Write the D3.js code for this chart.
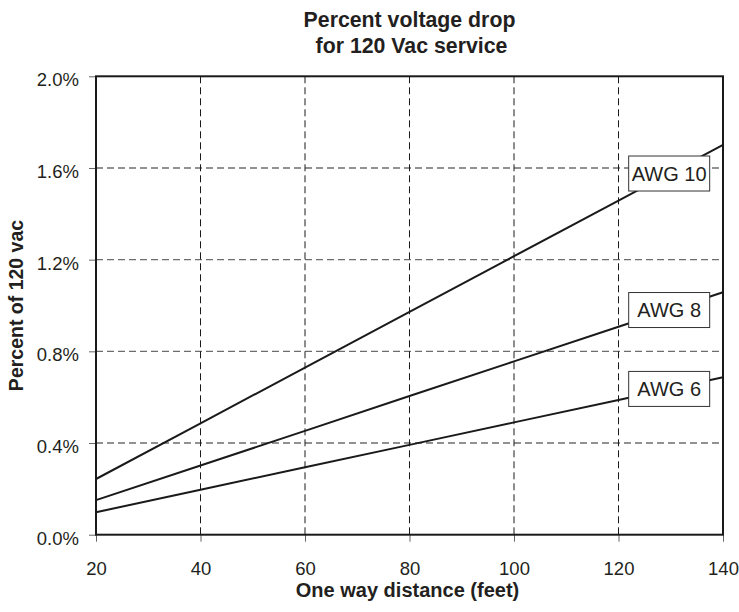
<!DOCTYPE html>
<html>
<head>
<meta charset="utf-8">
<script src="https://cdn.jsdelivr.net/npm/d3@7"></script>
<style>
  body { margin: 0; background: #fff; }
  svg text { font-family: "Liberation Sans", Arial, sans-serif; fill: #231f20; }
</style>
</head>
<body>
<div id="chart"></div>
<script>
// distances (feet, one way)
const distances = [20, 40, 60, 80, 100, 120, 140];

// percent drop of 120 Vac
const awg10 = [0.243, 0.486, 0.729, 0.972, 1.215, 1.458, 1.701];
const awg8  = [0.151, 0.302, 0.453, 0.605, 0.756, 0.907, 1.058];
const awg6  = [0.098, 0.196, 0.294, 0.392, 0.490, 0.588, 0.687];

const seriesNames = ["AWG 10", "AWG 8", "AWG 6"];
const seriesValues = [awg10, awg8, awg6];

const xTicks = [20, 40, 60, 80, 100, 120, 140];
const yTicks = [0, 0.4, 0.8, 1.2, 1.6, 2.0];

const labelAt = 129.7; // where the boxes sit along x

const W = 739, H = 612;
const margin = {top: 76.3, right: 16, bottom: 77.3, left: 96};
const width = W - margin.left - margin.right;
const height = H - margin.top - margin.bottom;

const svg = d3.select("#chart").append("svg")
    .attr("width", W)
    .attr("height", H);

const g = svg.append("g")
    .attr("transform", "translate(" + margin.left + "," + margin.top + ")");

const x = d3.scaleLinear().domain([20, 140]).range([0, width]);
const y = d3.scaleLinear().domain([0, 2.0]).range([height, 0]);

// horizontal grid (grey dashes)
g.append("g")
    .selectAll("line")
    .data(yTicks.filter(d => d > 0 && d < 2))
    .enter().append("line")
    .attr("x1", 0).attr("x2", width)
    .attr("y1", d => y(d)).attr("y2", d => y(d))
    .attr("stroke", "#6d6d6d")
    .attr("stroke-width", 1.4)
    .attr("stroke-dasharray", "7,4");

// vertical grid (black dashes)
g.append("g")
    .selectAll("line")
    .data(xTicks.filter(d => d > 20 && d < 140))
    .enter().append("line")
    .attr("x1", d => x(d)).attr("x2", d => x(d))
    .attr("y1", 0).attr("y2", height)
    .attr("stroke", "#1a1a1a")
    .attr("stroke-width", 1)
    .attr("stroke-dasharray", "7,4");

// axes
const xAxis = g.append("g")
    .attr("transform", "translate(0," + height + ")")
    .call(d3.axisBottom(x).tickValues(xTicks).tickSize(7).tickPadding(20).tickFormat(d3.format("d")));

const yAxis = g.append("g")
    .call(d3.axisLeft(y).tickValues(yTicks).tickSize(7).tickPadding(10).tickFormat(d => d.toFixed(1) + "%"));

[xAxis, yAxis].forEach(a => {
    a.select(".domain").remove();
    a.selectAll(".tick line").attr("stroke", "#666").attr("stroke-width", 1);
    a.selectAll(".tick text")
        .attr("fill", "#231f20")
        .style("font-size", "18.5px")
        .style("font-family", "'Liberation Sans', Arial, sans-serif");
});
yAxis.selectAll(".tick text").attr("dy", "0.52em");

// frame: top, right, bottom, left all solid
g.append("rect")
    .attr("x", 0).attr("y", 0)
    .attr("width", width).attr("height", height)
    .attr("fill", "none")
    .attr("stroke", "#1a1a1a")
    .attr("stroke-width", 2);

// series lines
const line = d3.line()
    .x((d, i) => x(distances[i]))
    .y(d => y(d));

g.append("g")
    .selectAll("path")
    .data(seriesValues)
    .enter().append("path")
    .attr("d", d => line(d))
    .attr("fill", "none")
    .attr("stroke", "#1a1a1a")
    .attr("stroke-width", 2);

// label boxes sitting on the lines
const interp = vals => {
    const i = d3.bisectRight(distances, labelAt) - 1;
    const t = (labelAt - distances[i]) / (distances[i + 1] - distances[i]);
    return vals[i] + t * (vals[i + 1] - vals[i]);
};

const boxW = 81, boxH = 35;
const labels = g.append("g")
    .selectAll("g")
    .data(seriesNames.map((n, i) => ({name: n, v: interp(seriesValues[i])})))
    .enter().append("g")
    .attr("transform", d => "translate(" + x(labelAt) + "," + y(d.v) + ")");

labels.append("rect")
    .attr("x", -boxW / 2).attr("y", -boxH / 2)
    .attr("width", boxW).attr("height", boxH)
    .attr("fill", "#fff")
    .attr("stroke", "#333")
    .attr("stroke-width", 1);

labels.append("text")
    .attr("text-anchor", "middle")
    .attr("dy", "0.36em")
    .style("font-size", "20px")
    .text(d => d.name);

// titles
const cx = margin.left + width / 2;
svg.append("text")
    .attr("x", cx).attr("y", 26.5)
    .attr("text-anchor", "middle")
    .style("font-size", "21.3px").style("font-weight", "bold")
    .text("Percent voltage drop");
svg.append("text")
    .attr("x", cx + 2).attr("y", 52.5)
    .attr("text-anchor", "middle")
    .style("font-size", "21.3px").style("font-weight", "bold")
    .text("for 120 Vac service");

svg.append("text")
    .attr("x", cx - 2).attr("y", 597)
    .attr("text-anchor", "middle")
    .style("font-size", "20px").style("font-weight", "bold")
    .text("One way distance (feet)");

svg.append("text")
    .attr("transform", "translate(23," + (margin.top + height / 2) + ") rotate(-90)")
    .attr("text-anchor", "middle")
    .style("font-size", "19.5px").style("font-weight", "bold")
    .text("Percent of 120 vac");
</script>
</body>
</html>
